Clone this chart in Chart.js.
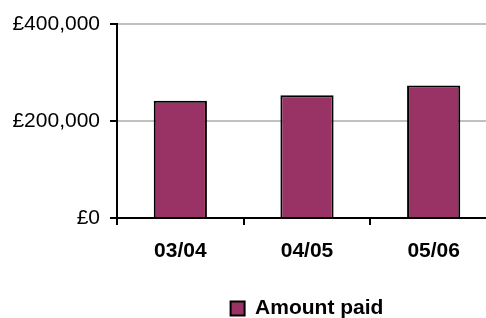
<!DOCTYPE html>
<html>
<head>
<meta charset="utf-8">
<script src="https://cdn.jsdelivr.net/npm/chart.js@4/dist/chart.umd.min.js"></script>
<style>
  html, body { margin: 0; padding: 0; background: #fff; overflow: hidden; }
  #wrap { width: 497px; height: 318px; }
</style>
</head>
<body>
<div id="wrap"><canvas id="grafico"></canvas></div>
<script>
// Dados
const categorias = ['03/04', '04/05', '05/06'];
const valoresPagos = [242000, 253000, 273000];
const ticksY = [0, 200000, 400000];
const nomeSerie = 'Amount paid';

const fonte = 'Arial, "Liberation Sans", sans-serif';
const ctx = document.getElementById('grafico').getContext('2d');

new Chart(ctx, {
  type: 'bar',
  data: {
    labels: categorias,
    datasets: [{
      label: nomeSerie,
      data: valoresPagos,
      backgroundColor: '#993366',
      borderColor: '#000',
      borderWidth: 2,
      barPercentage: 0.42,
      categoryPercentage: 1
    }]
  },
  options: {
    responsive: true,
    maintainAspectRatio: false,
    animation: false,
    layout: { padding: { top: 24, left: 0, right: 0, bottom: -11 } },
    scales: {
      x: {
        offset: true,
        grid: {
          offset: true,
          drawOnChartArea: false,
          color: '#000',
          lineWidth: 2,
          tickLength: 7
        },
        border: { color: '#000', width: 2 },
        ticks: {
          color: '#000',
          padding: 14,
          font: { family: fonte, size: 21, weight: 'bold' }
        },
        afterFit: s => { s.height = 80; }
      },
      y: {
        min: 0,
        max: 400000,
        afterBuildTicks: s => { s.ticks = ticksY.map(v => ({ value: v })); },
        grid: {
          color: c => c.tick && c.tick.value === 0 ? 'rgba(0,0,0,0)' : '#c0c0c0',
          tickColor: '#000',
          lineWidth: 2,
          tickLength: 7
        },
        border: { color: '#000', width: 2 },
        ticks: {
          color: '#000',
          padding: 10,
          font: { family: fonte, size: 21 },
          callback: v => '£' + Number(v).toLocaleString('en-GB')
        },
        afterFit: s => { s.width = 117; }
      }
    },
    plugins: {
      tooltip: { enabled: false },
      legend: {
        position: 'bottom',
        fullSize: false,
        labels: {
          color: '#000',
          boxWidth: 14,
          boxHeight: 14,
          padding: 0,
          font: { family: fonte, size: 21, weight: 'bold' }
        }
      }
    }
  }
});
</script>
</body>
</html>
